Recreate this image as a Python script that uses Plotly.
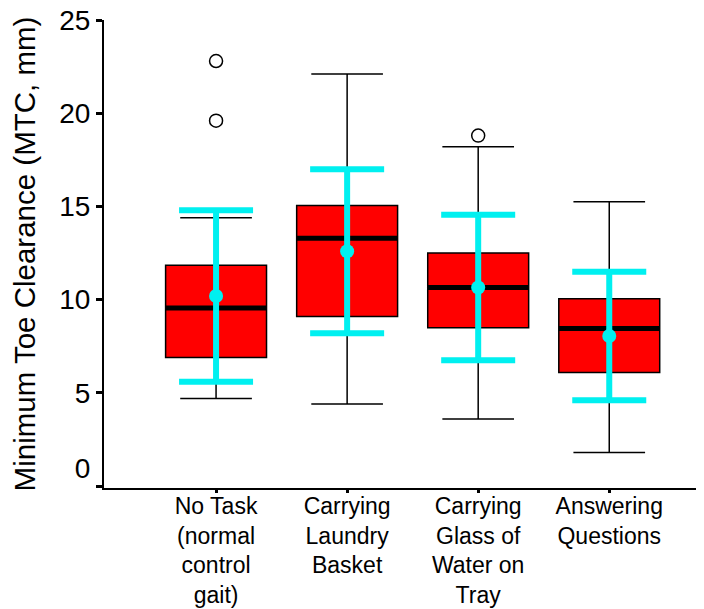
import plotly.graph_objects as go

# Kategorien (Beschriftung der x-Achse)
tasks = ["No Task<br>(normal<br>control<br>gait)",
         "Carrying<br>Laundry<br>Basket",
         "Carrying<br>Glass of<br>Water on<br>Tray",
         "Answering<br>Questions"]
pos = [0, 1, 2, 3]

# Boxplot-Kennwerte (mm)
q1 = [6.9, 9.1, 8.5, 6.1]
median = [9.55, 13.3, 10.65, 8.45]
q3 = [11.85, 15.05, 12.5, 10.05]
lower_whisker = [4.7, 4.4, 3.6, 1.8]
upper_whisker = [14.4, 22.1, 18.2, 15.25]

# Ausreisser
outlier_x = [0, 0, 2]
outlier_y = [19.6, 22.8, 18.8]

# Mittelwert +- Standardabweichung
mean = [10.2, 12.6, 10.65, 8.05]
sd = [4.6, 4.4, 3.9, 3.45]

y_ticks = [0, 5, 10, 15, 20, 25]
y_ticklabels = ["0<br> ", "5", "10", "15", "20", "25"]

fig = go.Figure()

fig.add_trace(go.Box(
    x=pos, q1=q1, median=median, q3=q3,
    lowerfence=lower_whisker, upperfence=upper_whisker,
    width=0.77, whiskerwidth=0.71,
    fillcolor="#ff0000", line=dict(color="black", width=1.5),
    boxpoints=False, showlegend=False, hoverinfo="skip"))

# dicke Medianlinie (line-ew: Laenge = 1.4 * size)
fig.add_trace(go.Scatter(
    x=pos, y=median, mode="markers",
    marker=dict(symbol="line-ew", size=72, line=dict(color="black", width=5)),
    showlegend=False, hoverinfo="skip"))

fig.add_trace(go.Scatter(
    x=outlier_x, y=outlier_y, mode="markers",
    marker=dict(symbol="circle-open", size=13, color="black", line=dict(width=1.5)),
    showlegend=False, hoverinfo="skip"))

fig.add_trace(go.Scatter(
    x=pos, y=mean, mode="markers",
    marker=dict(symbol="circle", size=14, color="#00f0f0"),
    error_y=dict(type="data", array=sd, color="#00f0f0", thickness=6, width=37),
    showlegend=False, hoverinfo="skip"))

# Seite hat 8px Rand im Body -> Figur entsprechend kleiner
fig.update_layout(
    width=696, height=601,
    margin=dict(l=96, r=3, t=12, b=121),
    plot_bgcolor="white", paper_bgcolor="white",
    font=dict(family="Liberation Sans, Arial, sans-serif", color="black"),
)

fig.update_xaxes(
    range=[-0.855, 3.70], tickvals=pos, ticktext=tasks,
    showline=True, linecolor="black", linewidth=2,
    ticks="outside", ticklen=3, tickwidth=3, tickcolor="black",
    tickfont=dict(size=23), ticklabelstandoff=-7,
    showgrid=False, zeroline=False, automargin=False)

fig.update_yaxes(
    range=[-0.1, 25], tickvals=y_ticks, ticktext=y_ticklabels,
    title=dict(text="Minimum Toe Clearance (MTC, mm)", font=dict(size=29.5), standoff=18),
    showline=True, linecolor="black", linewidth=2,
    ticks="outside", ticklen=6, tickwidth=3, tickcolor="black",
    tickfont=dict(size=28), ticklabeloverflow="allow",
    showgrid=False, zeroline=False, automargin=False)

fig.write_html("out.html")
